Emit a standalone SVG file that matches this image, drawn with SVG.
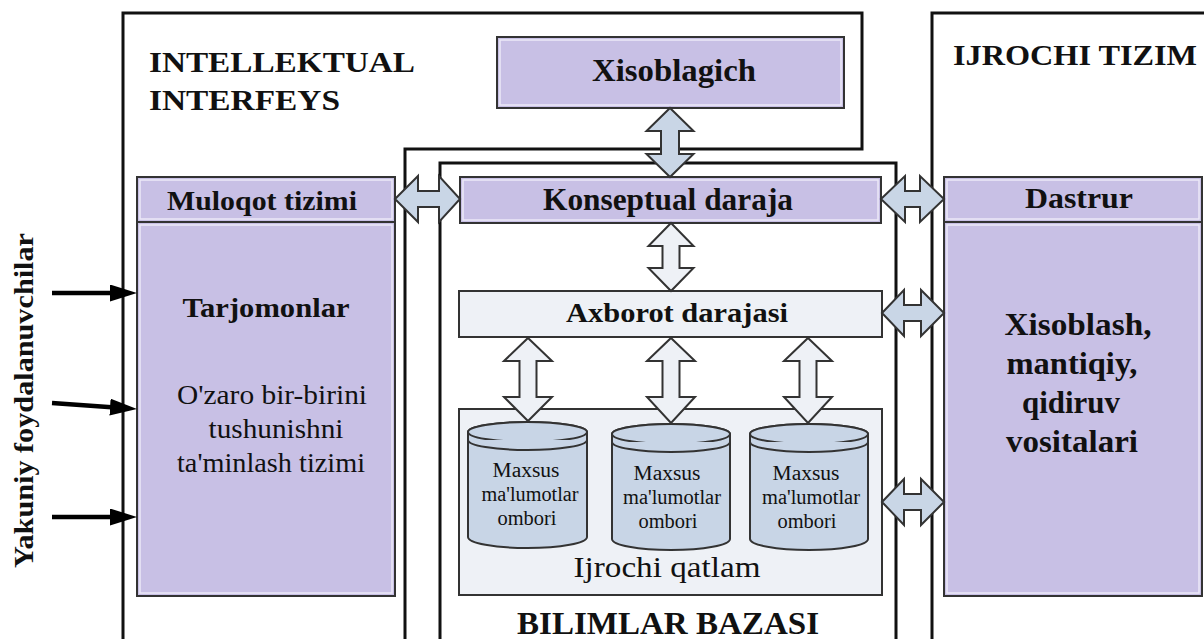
<svg xmlns="http://www.w3.org/2000/svg" width="1204" height="639" viewBox="0 0 1204 639">
<style>
.frame{fill:none;stroke:#111;stroke-width:3}
.pbox{fill:#C8C0E5;stroke:#333;stroke-width:2}
.pin{fill:none;stroke:#ECE9F7;stroke-width:1.5}
.lbox{fill:#EEF1F6;stroke:#333;stroke-width:2}
.cyl{fill:#C8D5E6;stroke:#333;stroke-width:2}
.darr{fill:#C9D6E6;stroke:#333;stroke-width:2;stroke-linejoin:miter}
.larr{fill:#EEF1F6;stroke:#333;stroke-width:2;stroke-linejoin:miter}
.uarr{stroke:#000;stroke-width:4.5;fill:none}
.b{font-family:"Liberation Serif","Times New Roman",serif;font-weight:bold;fill:#111}
.r{font-family:"Liberation Serif","Times New Roman",serif;fill:#111}
</style>
<defs>
<marker id="ah" markerUnits="userSpaceOnUse" viewBox="0 0 27 17" markerWidth="27" markerHeight="17" refX="12" refY="8.5" orient="auto">
<path d="M0,0 L27,8.5 L0,17 z" fill="#000"/>
</marker>
</defs>
<rect width="1204" height="639" fill="#fff"/>

<g id="frame-intellektual">
<path class="frame" d="M123,645 V13 H862 V149 H405 V645"/>
<text class="b" x="149" y="72" font-size="30" textLength="266" lengthAdjust="spacingAndGlyphs">INTELLEKTUAL</text>
<text class="b" x="149" y="110" font-size="30" textLength="191" lengthAdjust="spacingAndGlyphs">INTERFEYS</text>
</g>

<g id="frame-bilimlar">
<path class="frame" d="M440,645 V163 H896 V645"/>
<text class="b" x="668" y="634" font-size="32" text-anchor="middle" textLength="302" lengthAdjust="spacingAndGlyphs">BILIMLAR BAZASI</text>
</g>

<g id="frame-ijrochi">
<path class="frame" d="M1210,13 H932 V645"/>
<text class="b" x="953" y="65" font-size="30" textLength="244" lengthAdjust="spacingAndGlyphs">IJROCHI TIZIM</text>
</g>

<g id="users">
<text class="b" transform="translate(33,568) rotate(-90)" x="0" y="0" font-size="28" textLength="335" lengthAdjust="spacingAndGlyphs">Yakuniy foydalanuvchilar</text>
</g>

<g id="node-xisoblagich">
<rect class="pbox" x="497" y="37" width="347" height="71"/>
<rect class="pin" x="500" y="40" width="341" height="65"/>
<text class="b" x="674" y="81" font-size="31" text-anchor="middle" textLength="164" lengthAdjust="spacingAndGlyphs">Xisoblagich</text>
</g>

<g id="node-muloqot">
<rect class="pbox" x="137" y="177" width="258" height="45"/>
<rect class="pin" x="140" y="180" width="252" height="39"/>
<text class="b" x="262" y="210" font-size="28" text-anchor="middle" textLength="190" lengthAdjust="spacingAndGlyphs">Muloqot tizimi</text>
<rect class="pbox" x="137" y="222" width="258" height="374"/>
<rect class="pin" x="140" y="225" width="252" height="368"/>
<text class="b" x="266" y="317" font-size="27" text-anchor="middle" textLength="167" lengthAdjust="spacingAndGlyphs">Tarjomonlar</text>
<text class="r" x="272" y="404" font-size="27" text-anchor="middle" textLength="190" lengthAdjust="spacingAndGlyphs">O'zaro bir-birini</text>
<text class="r" x="276" y="438" font-size="27" text-anchor="middle" textLength="135" lengthAdjust="spacingAndGlyphs">tushunishni</text>
<text class="r" x="271" y="472" font-size="27" text-anchor="middle" textLength="188" lengthAdjust="spacingAndGlyphs">ta'minlash tizimi</text>
</g>

<g id="node-konseptual">
<rect class="pbox" x="460" y="177" width="421" height="46"/>
<rect class="pin" x="463" y="180" width="415" height="40"/>
<text class="b" x="668" y="210" font-size="31" text-anchor="middle" textLength="250" lengthAdjust="spacingAndGlyphs">Konseptual daraja</text>
</g>

<g id="node-axborot">
<rect class="lbox" x="459" y="291" width="423" height="46"/>
<text class="b" x="677" y="322" font-size="28" text-anchor="middle" textLength="222" lengthAdjust="spacingAndGlyphs">Axborot darajasi</text>
</g>

<g id="node-ijrochi-qatlam">
<rect class="lbox" x="459" y="409" width="423" height="186"/>
<text class="r" x="667" y="577" font-size="30" text-anchor="middle" textLength="187" lengthAdjust="spacingAndGlyphs">Ijrochi qatlam</text>
</g>

<g id="node-cyl1">
<path class="cyl" d="M468,432 V537 A59.5,11 0 0 0 587,537 V432 A59.5,10 0 0 0 468,432 Z"/>
<ellipse class="cyl" cx="527.5" cy="432" rx="59.5" ry="10"/>
<path class="cyl" fill="none" d="M468,440 A59.5,10 0 0 0 587,440"/>
<text class="r" x="526" y="477" font-size="20" text-anchor="middle" textLength="67" lengthAdjust="spacingAndGlyphs">Maxsus</text>
<text class="r" x="530" y="501" font-size="20" text-anchor="middle" textLength="97" lengthAdjust="spacingAndGlyphs">ma'lumotlar</text>
<text class="r" x="527" y="525" font-size="20" text-anchor="middle" textLength="59" lengthAdjust="spacingAndGlyphs">ombori</text>
</g>

<g id="node-cyl2">
<path class="cyl" d="M612,434 V539 A59,11 0 0 0 730,539 V434 A59,10 0 0 0 612,434 Z"/>
<ellipse class="cyl" cx="671" cy="434" rx="59" ry="10"/>
<path class="cyl" fill="none" d="M612,442 A59,10 0 0 0 730,442"/>
<text class="r" x="667" y="480" font-size="20" text-anchor="middle" textLength="67" lengthAdjust="spacingAndGlyphs">Maxsus</text>
<text class="r" x="672" y="504" font-size="20" text-anchor="middle" textLength="98" lengthAdjust="spacingAndGlyphs">ma'lumotlar</text>
<text class="r" x="668" y="528" font-size="20" text-anchor="middle" textLength="59" lengthAdjust="spacingAndGlyphs">ombori</text>
</g>

<g id="node-cyl3">
<path class="cyl" d="M750,434 V539 A59,11 0 0 0 868,539 V434 A59,10 0 0 0 750,434 Z"/>
<ellipse class="cyl" cx="809" cy="434" rx="59" ry="10"/>
<path class="cyl" fill="none" d="M750,442 A59,10 0 0 0 868,442"/>
<text class="r" x="806" y="480" font-size="20" text-anchor="middle" textLength="67" lengthAdjust="spacingAndGlyphs">Maxsus</text>
<text class="r" x="811" y="504" font-size="20" text-anchor="middle" textLength="98" lengthAdjust="spacingAndGlyphs">ma'lumotlar</text>
<text class="r" x="807" y="528" font-size="20" text-anchor="middle" textLength="59" lengthAdjust="spacingAndGlyphs">ombori</text>
</g>

<g id="node-dastrur">
<rect class="pbox" x="944" y="177" width="258" height="45"/>
<rect class="pin" x="947" y="180" width="252" height="39"/>
<text class="b" x="1079" y="208" font-size="30" text-anchor="middle" textLength="108" lengthAdjust="spacingAndGlyphs">Dastrur</text>
<rect class="pbox" x="944" y="222" width="258" height="374"/>
<rect class="pin" x="947" y="225" width="252" height="368"/>
<text class="b" x="1078" y="335" font-size="31" text-anchor="middle" textLength="147" lengthAdjust="spacingAndGlyphs">Xisoblash,</text>
<text class="b" x="1072" y="374" font-size="31" text-anchor="middle" textLength="131" lengthAdjust="spacingAndGlyphs">mantiqiy,</text>
<text class="b" x="1071" y="413" font-size="31" text-anchor="middle" textLength="98" lengthAdjust="spacingAndGlyphs">qidiruv</text>
<text class="b" x="1072" y="452" font-size="31" text-anchor="middle" textLength="132" lengthAdjust="spacingAndGlyphs">vositalari</text>
</g>

<g id="connectors">
<polygon class="darr" points="670,108 693.5,131 679,131 679,154 693.5,154 670,177 646.5,154 661,154 661,131 646.5,131"/>
<polygon class="darr" points="395,199 418,176 418,191 439,191 439,176 460,199 439,222 439,207 418,207 418,222"/>
<polygon class="darr" points="881,199 905,176 905,191 920,191 920,176 944,199 920,222 920,207 905,207 905,222"/>
<polygon class="darr" points="882,313 904,290 904,305 921,305 921,290 944,313 921,336 921,321 904,321 904,336"/>
<polygon class="darr" points="882,502 904,479 904,494 921,494 921,479 944,502 921,525 921,510 904,510 904,525"/>
<polygon class="larr" points="671,223 693.5,246 679.5,246 679.5,268 693.5,268 671,291 648.5,268 662.5,268 662.5,246 648.5,246"/>
<polygon class="larr" points="528,338 552,361 536.5,361 536.5,397 552,397 528,421 504,397 519.5,397 519.5,361 504,361"/>
<polygon class="larr" points="671,338 695,361 679.5,361 679.5,397 695,397 671,423 647,397 662.5,397 662.5,361 647,361"/>
<polygon class="larr" points="808,338 832,361 816.5,361 816.5,397 832,397 808,423 784,397 799.5,397 799.5,361 784,361"/>
<line class="uarr" x1="52" y1="293" x2="122" y2="293" marker-end="url(#ah)"/>
<line class="uarr" x1="52" y1="403" x2="122" y2="408" marker-end="url(#ah)"/>
<line class="uarr" x1="52" y1="517" x2="122" y2="517" marker-end="url(#ah)"/>
</g>
</svg>
